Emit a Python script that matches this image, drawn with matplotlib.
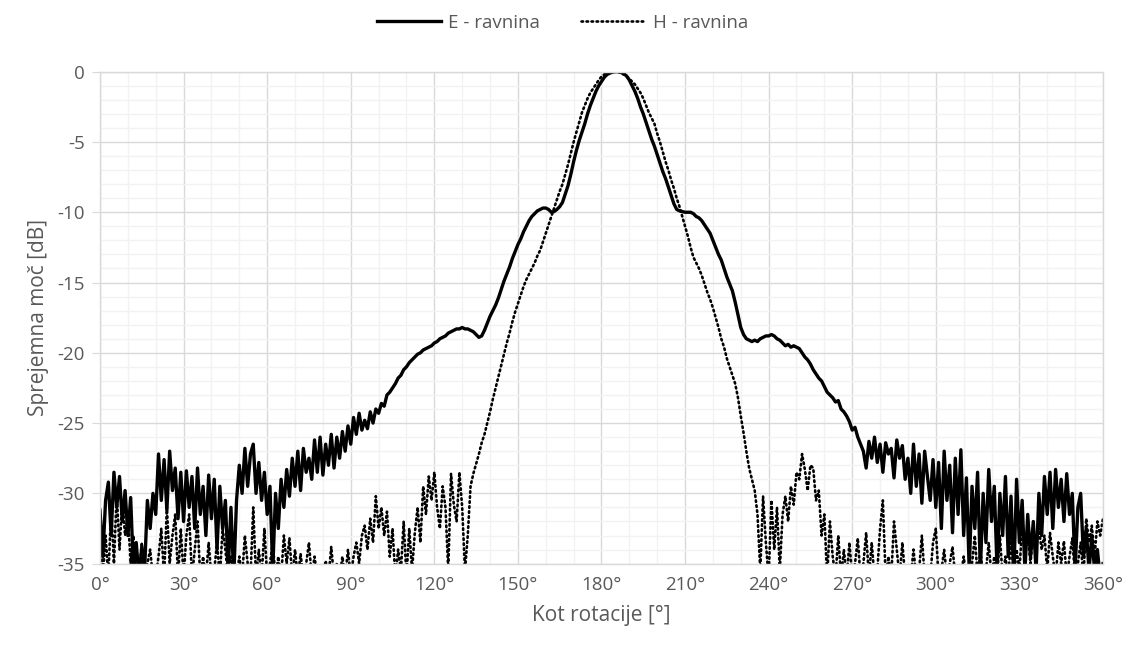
import matplotlib
matplotlib.use("Agg")
import matplotlib.pyplot as plt
from matplotlib.ticker import MultipleLocator

plt.rcParams["font.family"] = ["Open Sans", "DejaVu Sans"]
plt.rcParams["axes.unicode_minus"] = False

COLOR_TEXT = "#595959"
COLOR_MAJOR = "#d9d9d9"
COLOR_MINOR = "#f2f2f2"

# angle of rotation, 1 degree step
ANGLES = list(range(0, 361))

# received power, E-plane [dB]
E_PLANE = [
    -31.2, -34.5, -30.5, -29.2, -33.0, -28.5, -31.0, -28.8, -32.0, -29.8,
    -33.0, -30.3, -35.5, -33.5, -36.0, -33.8, -35.5, -30.5, -32.5, -30.0,
    -31.5, -27.2, -30.5, -27.6, -31.2, -27.0, -29.8, -28.2, -31.8, -28.5,
    -32.0, -28.4, -31.0, -28.8, -32.5, -28.2, -31.5, -29.5, -33.0, -28.7,
    -31.8, -29.0, -34.0, -29.5, -32.5, -30.5, -35.5, -31.0, -36.0, -30.5,
    -28.0, -30.0, -26.8, -29.5, -27.2, -26.5, -30.0, -27.8, -30.5, -28.5,
    -31.5, -29.5, -35.5, -30.0, -32.5, -29.0, -31.0, -28.3, -30.2, -27.5,
    -29.5, -27.0, -29.8, -26.8, -28.5, -27.5, -29.0, -26.2, -28.5, -26.0,
    -28.7, -26.5, -28.0, -25.8, -28.2, -26.0, -27.5, -25.6, -27.0, -25.2,
    -26.5, -24.6, -25.8, -24.3, -25.5, -24.8, -25.4, -24.2, -25.0, -24.0,
    -24.3, -23.6, -23.8, -23.0, -22.8, -22.5, -22.2, -21.8, -21.6, -21.2,
    -21.0, -20.7, -20.5, -20.3, -20.1, -20.0, -19.8, -19.7, -19.6, -19.5,
    -19.3, -19.2, -19.0, -18.9, -18.8, -18.6, -18.5, -18.4, -18.3, -18.3,
    -18.2, -18.3, -18.3, -18.4, -18.5, -18.7, -18.9, -18.8, -18.4, -17.9,
    -17.4, -17.0, -16.6, -16.1, -15.5, -14.9, -14.4, -13.9, -13.3, -12.8,
    -12.3, -11.9, -11.4, -11.0, -10.6, -10.3, -10.1, -9.9, -9.8, -9.7,
    -9.7, -9.8, -10.0, -9.95, -9.8, -9.6, -9.3, -8.7, -8.1, -7.3,
    -6.4, -5.6, -4.9, -4.3, -3.7, -3.0, -2.4, -1.9, -1.4, -1.0,
    -0.7, -0.4, -0.2, -0.1, -0.03, 0.0, 0.0, -0.05, -0.15, -0.3,
    -0.6, -1.0, -1.4, -1.9, -2.5, -3.0, -3.6, -4.2, -4.8, -5.3,
    -5.9, -6.5, -7.1, -7.6, -8.2, -8.8, -9.4, -9.8, -9.9, -9.95,
    -10.0, -10.0, -10.0, -10.1, -10.3, -10.4, -10.6, -10.9, -11.2, -11.5,
    -12.0, -12.5, -13.0, -13.4, -14.0, -14.6, -15.1, -15.6, -16.4, -17.3,
    -18.2, -18.7, -19.0, -19.1, -19.2, -19.1, -19.2, -19.0, -18.9, -18.8,
    -18.8, -18.7, -18.8, -19.0, -19.1, -19.3, -19.5, -19.4, -19.6, -19.5,
    -19.6, -19.7, -20.0, -20.3, -20.5, -20.8, -21.2, -21.5, -21.8, -22.0,
    -22.4, -22.8, -23.0, -23.2, -23.5, -23.4, -24.0, -24.2, -24.5, -24.9,
    -25.5, -25.3, -26.0, -26.5, -27.0, -28.2, -26.3, -27.5, -26.0, -27.8,
    -26.5, -28.5, -26.4, -27.2, -26.8, -28.9, -26.2, -27.5, -26.6, -29.0,
    -27.5, -30.0, -26.5, -29.5, -27.2, -30.7, -27.0, -28.8, -30.5, -27.6,
    -31.0, -27.8, -32.5, -27.0, -30.5, -28.0, -32.8, -27.5, -31.5, -26.9,
    -33.0, -28.9, -35.5, -29.5, -32.5, -28.5, -35.5, -30.0, -33.5, -28.3,
    -32.0, -29.5, -35.5, -30.0, -33.0, -28.8, -34.5, -30.2, -36.0, -29.0,
    -33.5, -30.5, -35.5, -31.5, -34.5, -32.0, -35.5, -30.0, -33.0, -28.8,
    -31.5, -28.5, -32.5, -28.3, -31.0, -29.0, -32.0, -28.6, -31.5, -30.0,
    -35.5, -31.0, -30.0, -34.5, -32.5, -35.5, -33.0, -35.5, -34.0, -36.0,
    -35.0,
]

# received power, H-plane [dB]
H_PLANE = [
    -31.5, -36.0, -33.0, -36.0, -31.0, -35.0, -30.0, -34.0, -30.5, -33.0,
    -31.5, -35.0, -33.0, -36.0, -36.0, -33.5, -36.0, -35.0, -34.0, -36.0,
    -36.0, -34.5, -32.5, -36.0, -31.0, -35.0, -33.0, -31.5, -36.0, -32.5,
    -36.0, -33.0, -31.5, -36.0, -34.0, -32.0, -36.0, -34.5, -36.0, -33.5,
    -36.0, -35.5, -33.5, -36.0, -32.5, -34.0, -36.0, -34.5, -36.0, -36.0,
    -34.5, -36.0, -33.0, -35.0, -36.0, -31.0, -36.0, -34.0, -36.0, -32.5,
    -36.0, -35.0, -33.5, -36.0, -34.5, -36.0, -33.0, -35.0, -33.2, -36.0,
    -34.0, -36.0, -34.3, -36.0, -35.0, -33.5, -36.0, -34.5, -36.0, -35.5,
    -36.0, -34.8, -36.0, -33.8, -36.0, -35.0, -36.0, -34.5, -36.0, -34.0,
    -36.0, -34.5, -33.5, -35.0, -33.0, -32.3, -34.0, -31.8, -33.5, -30.2,
    -32.5, -31.0, -33.0, -31.3, -34.5, -32.5, -36.0, -34.0, -35.5, -32.0,
    -36.0, -32.5, -35.5, -32.8, -31.0, -33.5, -29.5, -31.5, -28.8, -30.5,
    -28.5, -31.0, -32.5, -29.5, -31.0, -35.5, -28.6, -30.8, -32.0, -28.5,
    -31.0, -35.5, -33.0, -29.5, -28.6, -27.9, -27.2, -26.4, -25.8, -25.0,
    -24.2, -23.3, -22.5, -21.7, -20.9, -20.1, -19.3, -18.6, -17.8, -17.1,
    -16.5, -15.9, -15.3, -14.8, -14.4, -14.0, -13.6, -13.1, -12.7, -12.1,
    -11.5, -10.9, -10.3, -9.7, -9.1, -8.5, -8.0, -7.3, -6.6, -5.8,
    -5.0, -4.3, -3.6, -2.9, -2.4, -1.9, -1.5, -1.2, -0.9, -0.6,
    -0.35, -0.2, -0.1, -0.05, 0.0, 0.0, -0.02, -0.1, -0.2, -0.35,
    -0.5, -0.7, -0.9, -1.2, -1.5, -1.9, -2.4, -2.9, -3.3, -3.7,
    -4.4, -5.0, -5.7, -6.4, -7.0, -7.7, -8.3, -9.0, -9.6, -10.3,
    -11.0, -11.7, -12.5, -13.2, -13.6, -14.0, -14.5, -15.1, -15.7, -16.2,
    -16.8, -17.5, -18.2, -19.0, -19.6, -20.4, -21.0, -21.6, -22.2, -23.2,
    -24.5, -25.7, -27.0, -28.2, -29.0, -29.8, -31.5, -35.5, -30.2, -33.5,
    -36.0, -30.5, -34.0, -31.0, -35.5, -31.5, -30.2, -32.0, -29.5, -30.8,
    -28.5, -29.0, -27.2, -28.3, -29.8, -28.0, -28.2, -30.5, -29.8, -33.0,
    -31.5, -36.0, -32.0, -34.5, -36.0, -33.0, -36.0, -34.0, -36.0, -33.5,
    -36.0, -35.0, -33.2, -36.0, -35.0, -32.8, -36.0, -33.5, -36.0, -35.5,
    -32.5, -30.5, -36.0, -34.5, -36.0, -32.0, -34.0, -36.0, -33.5, -36.0,
    -35.5, -36.0, -34.0, -36.0, -35.5, -33.0, -36.0, -35.0, -36.0, -33.5,
    -32.5, -36.0, -35.5, -34.0, -36.0, -35.0, -33.8, -36.0, -35.5, -36.0,
    -34.5, -36.0, -36.0, -35.0, -33.0, -36.0, -34.0, -36.0, -35.5, -33.5,
    -36.0, -34.5, -36.0, -33.0, -36.0, -34.5, -36.0, -33.2, -36.0, -34.0,
    -35.5, -32.5, -34.0, -33.0, -35.0, -32.6, -33.5, -32.5, -34.0, -33.0,
    -35.5, -32.8, -34.5, -36.0, -33.5, -35.0, -33.4, -36.0, -34.5, -33.2,
    -36.0, -35.0, -33.5, -36.0, -31.8, -33.5, -32.3, -34.5, -32.0, -33.0,
    -31.8,
]

X_TICKS = list(range(0, 361, 30))
X_LABELS = [f"{t}°" for t in X_TICKS]
Y_TICKS = list(range(-35, 1, 5))
Y_LABELS = [str(t) for t in Y_TICKS]

assert len(E_PLANE) == len(ANGLES) and len(H_PLANE) == len(ANGLES)

fig = plt.figure(figsize=(11.25, 6.46), dpi=100)
ax = fig.add_axes([0.0889, 0.1275, 0.8915, 0.7615])

ax.plot(ANGLES, E_PLANE, color="black", linewidth=2.4, label="E - ravnina",
        solid_joinstyle="round")
ax.plot(ANGLES, H_PLANE, color="black", linewidth=1.9, linestyle=(0, (0.6, 1.3)),
        dash_capstyle="round", label="H - ravnina")

ax.set_xlim(0, 360)
ax.set_ylim(-35, 0)
ax.set_xticks(X_TICKS)
ax.set_xticklabels(X_LABELS)
ax.set_yticks(Y_TICKS)
ax.set_yticklabels(Y_LABELS)
ax.xaxis.set_minor_locator(MultipleLocator(10))
ax.yaxis.set_minor_locator(MultipleLocator(1))

ax.grid(which="minor", color=COLOR_MINOR, linewidth=1.0)
ax.grid(which="major", color=COLOR_MAJOR, linewidth=1.0)
ax.set_axisbelow(True)

for side in ("top", "bottom", "left", "right"):
    ax.spines[side].set_color(COLOR_MAJOR)
    ax.spines[side].set_linewidth(1.0)

ax.tick_params(axis="x", which="both", length=0, pad=9, labelsize=13.5, labelcolor=COLOR_TEXT)
ax.tick_params(axis="y", which="major", length=6, color=COLOR_MAJOR, pad=5,
               labelsize=13.5, labelcolor=COLOR_TEXT)
ax.tick_params(axis="y", which="minor", length=0)

ax.set_xlabel("Kot rotacije [°]", fontsize=15, color=COLOR_TEXT, labelpad=8)
ax.set_ylabel("Sprejemna moč [dB]", fontsize=15, color=COLOR_TEXT, labelpad=6)

fig.legend(loc="upper center", bbox_to_anchor=(0.5, 1.005), ncol=2, frameon=False,
           fontsize=13.5, labelcolor=COLOR_TEXT, handlelength=3.4, columnspacing=2.2,
           handletextpad=0.4)

fig.savefig("out.png", dpi=100, facecolor="white")
